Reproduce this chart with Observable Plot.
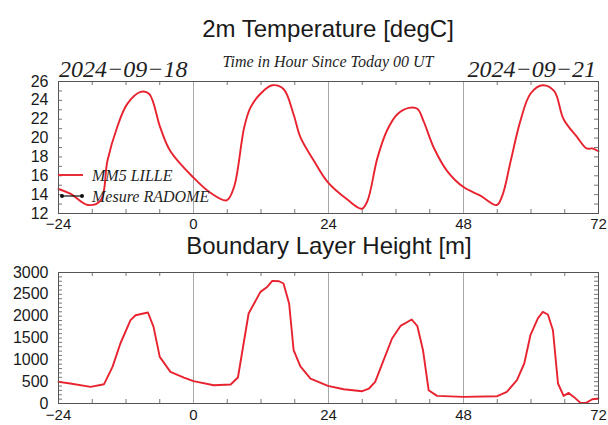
<!DOCTYPE html>
<html>
<head>
<meta charset="utf-8">
<script src="https://cdn.jsdelivr.net/npm/d3@7"></script>
<script src="https://cdn.jsdelivr.net/npm/@observablehq/plot@0.6"></script>
<style>
  html, body { margin: 0; padding: 0; background: #fff; }
  #root { position: relative; width: 608px; height: 425px; overflow: hidden; background: #fff; }
  #root > svg.plotsvg, #root > figure { position: absolute; left: 0; margin: 0; }
  #overlay { position: absolute; left: 0; top: 0; pointer-events: none; }
  .ttl { font-family: "Liberation Sans", Arial, Helvetica, sans-serif; font-size: 24px; fill: #1a1a1a; }
  .ser { font-family: "Liberation Serif", "Times New Roman", serif; font-style: italic; fill: #1f1f1f; }
</style>
</head>
<body>
<div id="root"></div>
<script>
// ---- Data ----
const tempHours = [-24,-21.9,-18.8,-16.5,-15.3,-13.6,-11.8,-9.4,-7.9,-5.9,
  -4.1,0,3,5.9,7.2,9,10.1,11.9,14,16,
  17.8,19,21.4,23.9,27.3,29.9,30.9,32.7,34.4,36.2,
  38.3,39.8,40.9,42.7,45.1,48,51,53.9,54.9,56.4,
  58.1,59.9,62,64.1,65.8,68.2,69.9,70.9,72];
const tempValues = [14.6,14.1,12.9,13.4,17.6,21.1,23.6,24.9,24.7,21.1,
  18.6,15.8,14.2,13.4,14.8,21.1,23.2,24.7,25.6,25.2,
  22.5,20.1,17.6,15.3,13.5,12.5,13.3,17.9,20.8,22.5,
  23.2,23.1,21.8,19.0,16.5,14.8,13.9,12.9,13.9,17.6,
  21.8,24.7,25.6,25.0,22.0,20.1,18.9,18.9,18.6];

const blhHours = [-24,-21.9,-18.3,-15.9,-14.4,-13,-11.2,-10.3,-8.1,-7.1,
  -6,-4.1,-1.7,0,3.6,6.6,7.9,9.8,11.9,13.1,
  14,15.2,16,17,17.8,19,20.8,23.9,26.7,30,
  31.2,32.3,33.8,35.3,36.8,38.8,39.8,40.8,41.8,43.3,
  48,54,55.7,57.5,58.8,59.9,61.2,62.1,63,63.9,
  64.8,65.8,66.7,67.6,68.8,69.8,70.9,72];
const blhValues = [495,458,380,442,838,1374,1908,2022,2084,1754,
  1067,724,595,511,419,435,595,2061,2556,2670,
  2808,2800,2748,2290,1220,850,572,403,327,282,
  343,495,992,1488,1777,1924,1770,1220,305,174,
  151,167,266,534,916,1564,1946,2098,2038,1679,
  458,174,243,151,14,14,98,114];

const xTicks = [-24, 0, 24, 48, 72];
const xGrid = [0, 24, 48];
const xMinor = [-18,-12,-6,6,12,18,30,36,42,54,60,66];
const tempTicks = [12,14,16,18,20,22,24,26];
const tempMinor = d3.range(13, 26, 1);
const blhTicks = [0,500,1000,1500,2000,2500,3000];
const blhMinor = d3.range(100, 3000, 100);

const titleTop = "2m Temperature [degC]";
const titleBottom = "Boundary Layer Height [m]";
const subtitle = "Time in Hour Since Today 00 UT";
const dateLeft = "2024\u221209\u221218";
const dateRight = "2024\u221209\u221221";
const legendNames = ["MM5 LILLE", "Mesure RADOME"];

const RED = "#e8232f";
const FONT = "'Liberation Sans', Arial, Helvetica, sans-serif";
const numFmt = d => (d < 0 ? "\u2212" : "") + String(Math.abs(d));

function panel({hours, values, yDomain, yTicks, yMinor, height, marginTop, marginBottom, tickPad, curve}) {
  const data = hours.map((h, i) => ({h, v: values[i]}));
  const fh = height - marginTop - marginBottom;
  const fw = 608 - 58 - 10;
  return Plot.plot({
    width: 608, height,
    marginLeft: 58, marginRight: 10, marginTop, marginBottom,
    style: {fontFamily: FONT, fontSize: "15px", color: "#1a1a1a", background: "transparent", overflow: "visible"},
    x: {domain: [-24, 72]},
    y: {domain: yDomain},
    marks: [
      Plot.ruleX(xGrid, {stroke: "#a8a8a8", strokeWidth: 1}),
      Plot.tickX(xMinor, {stroke: "#777", insetTop: fh - 4}),
      Plot.tickX(xMinor, {stroke: "#777", insetBottom: fh - 4}),
      Plot.tickY(yMinor, {stroke: "#777", insetRight: fw - 4}),
      Plot.tickY(yMinor, {stroke: "#777", insetLeft: fw - 4}),
      Plot.line(data, {x: "h", y: "v", stroke: RED, strokeWidth: 1.9, curve}),
      Plot.frame({stroke: "#555", strokeWidth: 1}),
      Plot.axisX({ticks: xTicks, tickFormat: numFmt, tickSize: 0, tickPadding: tickPad, label: null, fontSize: 15}),
      Plot.axisY({ticks: yTicks, tickFormat: numFmt, tickSize: 0, tickPadding: 10, label: null, fontSize: 16})
    ]
  });
}

const root = document.getElementById("root");

const topPanel = panel({hours: tempHours, values: tempValues, yDomain: [12, 26], yTicks: tempTicks, yMinor: tempMinor,
  height: 168, marginTop: 11, marginBottom: 25, tickPad: 5, curve: "catmull-rom"});
topPanel.classList.add("plotsvg");
topPanel.style.top = "70px";
root.appendChild(topPanel);

const botPanel = panel({hours: blhHours, values: blhValues, yDomain: [0, 3000], yTicks: blhTicks, yMinor: blhMinor,
  height: 163, marginTop: 10, marginBottom: 22, tickPad: 6, curve: "linear"});
botPanel.classList.add("plotsvg");
botPanel.style.top = "262px";
root.appendChild(botPanel);

// ---- Titles, annotations and legend ----
const NS = "http://www.w3.org/2000/svg";
const ov = document.createElementNS(NS, "svg");
ov.setAttribute("id", "overlay");
ov.setAttribute("width", 608);
ov.setAttribute("height", 425);
function txt(s, x, y, cls, size, anchor) {
  const t = document.createElementNS(NS, "text");
  t.textContent = s;
  t.setAttribute("x", x); t.setAttribute("y", y);
  t.setAttribute("class", cls);
  if (size) t.setAttribute("font-size", size);
  t.setAttribute("text-anchor", anchor || "start");
  ov.appendChild(t);
  return t;
}
function ln(x1, y1, x2, y2, stroke, w) {
  const l = document.createElementNS(NS, "line");
  l.setAttribute("x1", x1); l.setAttribute("y1", y1);
  l.setAttribute("x2", x2); l.setAttribute("y2", y2);
  l.setAttribute("stroke", stroke); l.setAttribute("stroke-width", w);
  ov.appendChild(l);
}
function dot(x, y) {
  const c = document.createElementNS(NS, "circle");
  c.setAttribute("cx", x); c.setAttribute("cy", y); c.setAttribute("r", 2);
  c.setAttribute("fill", "#111");
  ov.appendChild(c);
}
txt(titleTop, 328, 37, "ttl", null, "middle");
txt(subtitle, 328, 67, "ser", 16, "middle");
txt(dateLeft, 59, 77, "ser", 24, "start");
txt(dateRight, 596, 77, "ser", 24, "end");
txt(titleBottom, 329, 254, "ttl", null, "middle");
// legend
ln(58, 175, 83, 175, RED, 1.9);
txt(legendNames[0], 92, 181, "ser", 16, "start");
ln(62, 196, 82, 196, "#111", 1.2);
dot(62, 196); dot(82, 196);
txt(legendNames[1], 92, 202, "ser", 16, "start");
root.appendChild(ov);
</script>
</body>
</html>
